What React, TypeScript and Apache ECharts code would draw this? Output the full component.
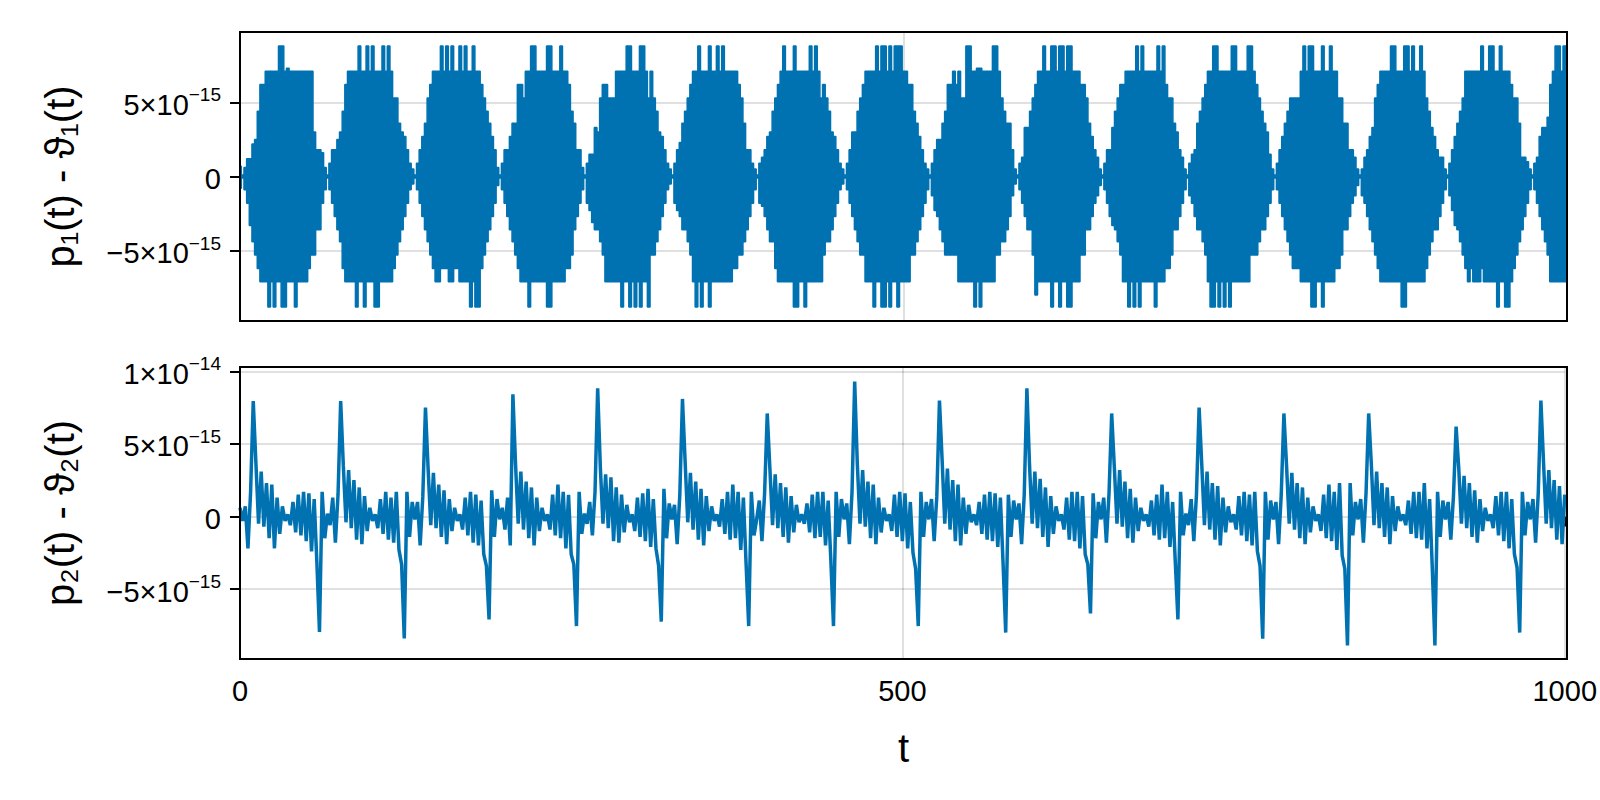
import React, { useEffect, useRef } from "react";
import * as echarts from "echarts";

// ---------- data (values in units of 1e-15) ----------
const T_STEP = 2; // time between consecutive samples
// start time of each segment (segment 0 = first sample, then one segment per beat lobe)
const segStartT = [0, 2, 66, 132, 196, 260, 326, 390, 456, 520, 586, 650, 714, 780, 844, 910, 974];

// top panel: upper envelope of p1(t) - θ1(t) per lobe
const p1Upper = [
  [0.7],
  [0.1, 0.6, 1.2, 1.2, 2.2, 2.5, 4.4, 6.2, 6.2, 7.1, 7.1, 7.1, 7.1, 7.1, 8.8, 8.8, 7.1, 7.3, 7.1, 7.1, 7.1, 7.1, 7.1, 7.1, 7.1, 7.1, 7.1, 3.0, 1.8, 1.8, 1.6, 0.6],
  [0.1, 0.9, 1.8, 1.8, 2.5, 3.0, 4.4, 6.2, 7.1, 7.1, 7.1, 7.1, 8.8, 7.1, 7.1, 8.8, 7.1, 8.8, 7.1, 7.1, 7.1, 8.8, 7.1, 8.8, 7.1, 5.3, 5.3, 3.6, 3.0, 2.7, 1.8, 0.9, 0.5],
  [0.1, 0.9, 1.8, 2.7, 3.6, 5.3, 6.2, 7.1, 7.1, 7.1, 8.8, 7.1, 8.8, 7.1, 8.8, 7.1, 7.1, 8.8, 7.1, 8.8, 7.1, 7.1, 8.8, 7.1, 7.1, 6.2, 5.3, 4.4, 3.6, 2.7, 1.8, 0.6],
  [0.1, 0.9, 1.8, 1.8, 2.7, 3.6, 3.6, 6.2, 6.2, 5.3, 7.1, 7.1, 8.8, 8.8, 7.1, 7.1, 7.1, 7.1, 8.8, 8.8, 7.1, 7.1, 7.1, 8.8, 7.1, 7.1, 6.2, 4.4, 3.6, 1.8, 1.8, 0.6],
  [0.1, 0.9, 1.5, 1.5, 3.3, 3.0, 5.3, 6.2, 6.2, 5.3, 5.3, 5.3, 7.1, 7.1, 7.1, 7.1, 8.8, 8.8, 7.1, 7.1, 7.1, 8.8, 8.8, 7.1, 5.3, 7.1, 5.3, 4.4, 3.0, 2.7, 1.8, 0.9, 0.5],
  [0.1, 0.9, 1.8, 2.3, 3.6, 4.4, 5.3, 6.2, 7.1, 7.1, 8.8, 7.1, 7.1, 7.1, 8.8, 7.1, 7.1, 8.8, 7.1, 8.8, 7.1, 7.1, 7.1, 7.1, 7.1, 6.2, 5.3, 3.6, 1.8, 1.8, 0.9, 0.5],
  [0.1, 0.9, 1.3, 1.8, 2.7, 3.0, 4.4, 5.3, 6.2, 7.1, 8.8, 7.1, 7.1, 7.1, 8.8, 7.1, 7.1, 7.1, 7.1, 7.1, 8.8, 7.1, 8.8, 7.1, 5.3, 6.2, 5.3, 4.4, 3.0, 2.7, 1.8, 0.9, 0.5],
  [0.1, 0.9, 1.8, 3.0, 3.0, 4.4, 5.3, 6.2, 7.1, 7.1, 7.1, 7.1, 8.8, 7.1, 8.8, 8.8, 7.1, 8.8, 7.1, 8.8, 8.8, 8.8, 7.1, 7.1, 6.2, 6.2, 4.4, 3.6, 2.7, 1.8, 0.9, 0.5],
  [0.1, 0.9, 1.8, 2.5, 2.5, 3.6, 4.4, 6.2, 6.2, 7.1, 6.2, 7.1, 5.3, 5.3, 8.8, 8.8, 7.1, 7.1, 7.3, 7.3, 7.1, 7.1, 7.1, 7.1, 8.8, 8.8, 7.1, 5.3, 4.4, 3.6, 3.6, 1.8, 0.5],
  [0.1, 0.9, 1.3, 3.3, 3.3, 4.4, 5.3, 6.2, 7.1, 7.1, 8.8, 7.1, 7.1, 8.8, 8.8, 7.1, 8.8, 8.8, 7.1, 8.8, 8.8, 7.1, 7.1, 7.1, 6.2, 6.2, 5.3, 3.6, 2.7, 1.8, 1.3, 0.5],
  [0.1, 0.9, 1.8, 1.8, 3.3, 4.4, 5.3, 6.2, 6.2, 7.1, 7.1, 7.1, 7.1, 8.8, 7.1, 8.8, 7.1, 7.1, 7.1, 7.1, 7.1, 8.8, 7.1, 8.8, 6.2, 5.3, 5.3, 3.6, 3.0, 1.8, 1.3, 0.5],
  [0.1, 0.9, 1.5, 1.8, 3.6, 4.4, 5.3, 6.2, 7.1, 7.1, 8.8, 8.8, 7.1, 7.1, 7.1, 7.1, 7.1, 8.8, 8.8, 7.1, 7.1, 7.1, 7.1, 8.8, 8.8, 7.1, 6.2, 5.3, 4.4, 3.6, 3.0, 1.5, 0.5],
  [0.1, 0.9, 1.8, 2.7, 3.6, 4.4, 5.3, 5.3, 5.3, 5.3, 7.1, 8.8, 7.1, 8.8, 8.8, 7.1, 7.1, 7.1, 8.8, 7.1, 7.1, 8.8, 7.1, 7.1, 5.3, 5.3, 3.6, 3.6, 1.8, 1.8, 1.3, 0.5],
  [0.1, 0.5, 1.3, 1.8, 2.7, 3.3, 5.3, 6.2, 7.1, 7.1, 7.1, 7.1, 8.8, 8.8, 7.1, 7.1, 7.1, 8.8, 8.8, 7.1, 8.8, 7.1, 7.1, 8.8, 7.1, 5.3, 4.4, 3.3, 2.7, 1.8, 1.3, 1.3, 0.5],
  [0.1, 0.9, 1.8, 2.7, 3.6, 4.4, 5.3, 7.1, 7.1, 7.1, 7.1, 7.1, 7.1, 8.8, 7.1, 7.1, 8.8, 8.8, 7.1, 7.1, 8.8, 7.1, 7.1, 7.1, 6.2, 5.3, 5.3, 3.6, 1.3, 1.3, 1.0, 0.5],
  [0.1, 0.9, 1.3, 2.7, 3.3, 3.3, 4.0, 6.2, 7.1, 8.8, 8.8, 7.1, 8.8, 8.8],
];

// top panel: lower envelope of p1(t) - θ1(t) per lobe
const p1Lower = [
  [-0.8],
  [-0.1, -0.9, -1.8, -3.3, -4.4, -5.3, -6.2, -7.1, -7.1, -7.1, -8.8, -7.1, -8.8, -7.1, -7.1, -8.8, -8.8, -7.1, -7.1, -7.1, -8.8, -7.1, -7.1, -7.1, -7.1, -6.2, -5.3, -5.3, -3.6, -3.6, -1.8, -0.9],
  [-0.1, -0.9, -1.8, -2.7, -3.6, -4.4, -6.2, -7.1, -7.1, -7.1, -7.1, -8.8, -7.1, -7.1, -8.8, -7.1, -7.1, -7.1, -8.8, -8.8, -7.1, -7.1, -7.1, -7.1, -7.1, -6.2, -5.3, -4.4, -3.6, -2.7, -1.8, -0.9, -0.5],
  [-0.1, -0.9, -1.8, -2.7, -3.6, -4.4, -5.3, -6.2, -7.1, -7.1, -6.2, -6.2, -6.2, -7.1, -7.1, -6.2, -6.2, -7.1, -7.1, -7.1, -7.1, -8.8, -7.1, -8.8, -8.8, -6.2, -5.3, -4.4, -3.6, -2.7, -1.8, -0.6],
  [-0.1, -0.9, -1.8, -2.7, -3.6, -4.4, -5.3, -6.2, -7.1, -7.1, -7.1, -8.8, -7.1, -7.1, -7.1, -7.1, -7.1, -7.1, -8.8, -8.8, -7.1, -7.1, -7.1, -7.1, -7.1, -6.2, -6.2, -5.3, -3.6, -2.7, -1.8, -0.9],
  [-0.1, -1.8, -2.3, -3.1, -3.6, -3.6, -4.4, -5.3, -7.1, -7.1, -7.1, -7.1, -7.1, -7.1, -8.8, -7.1, -7.1, -8.8, -7.1, -8.8, -7.1, -8.8, -7.1, -7.1, -8.8, -5.3, -5.3, -4.4, -3.6, -2.7, -1.8, -0.9, -0.5],
  [-0.1, -1.8, -2.3, -2.7, -3.6, -3.6, -4.4, -5.3, -7.1, -8.8, -7.1, -8.8, -7.1, -7.1, -8.8, -7.1, -7.1, -7.1, -7.1, -7.1, -7.1, -7.1, -7.1, -6.2, -6.2, -5.3, -5.3, -4.4, -3.6, -2.7, -1.8, -0.9],
  [-0.1, -1.8, -2.0, -2.7, -3.6, -4.4, -4.4, -6.2, -7.1, -7.1, -7.1, -7.1, -7.1, -7.1, -8.8, -8.8, -7.1, -7.1, -8.8, -7.1, -7.1, -7.1, -7.1, -7.1, -7.1, -5.3, -4.4, -4.4, -3.6, -2.7, -1.8, -0.9, -0.5],
  [-0.1, -0.9, -1.8, -2.7, -3.6, -4.4, -5.3, -5.3, -7.1, -7.1, -7.1, -8.8, -7.1, -7.1, -8.8, -8.8, -7.1, -8.8, -7.1, -7.1, -8.8, -7.1, -7.1, -7.1, -7.1, -5.3, -5.3, -4.4, -3.6, -2.7, -1.8, -0.9],
  [-0.1, -1.3, -2.3, -2.7, -3.6, -4.4, -5.3, -5.3, -5.3, -5.3, -5.3, -7.1, -7.1, -7.1, -7.1, -7.1, -7.1, -8.8, -7.1, -8.8, -7.1, -7.1, -7.1, -7.1, -7.1, -5.3, -5.3, -4.4, -4.4, -3.6, -2.7, -1.3, -0.5],
  [-0.1, -0.9, -1.8, -2.7, -3.6, -3.6, -5.3, -8.0, -7.1, -7.1, -7.1, -7.1, -7.1, -8.8, -7.1, -7.1, -8.8, -7.1, -7.1, -8.8, -8.8, -7.1, -7.1, -7.1, -5.3, -5.3, -3.6, -3.6, -2.7, -1.8, -1.3, -0.6],
  [-0.1, -0.9, -1.8, -2.7, -3.3, -3.6, -4.4, -5.3, -7.1, -7.1, -8.8, -7.1, -8.8, -7.1, -8.8, -7.1, -7.1, -7.1, -7.1, -7.1, -8.8, -7.1, -7.1, -7.1, -6.2, -6.2, -5.3, -3.6, -3.6, -2.7, -1.8, -0.9],
  [-0.1, -1.3, -1.8, -2.7, -3.6, -3.6, -4.4, -5.3, -7.1, -8.8, -8.8, -7.1, -8.8, -7.1, -8.8, -7.1, -8.8, -7.1, -7.1, -7.1, -7.1, -7.1, -7.1, -7.1, -5.3, -5.3, -5.3, -4.4, -3.6, -3.6, -2.7, -1.8, -0.9],
  [-0.1, -0.9, -1.8, -2.7, -3.6, -4.4, -5.3, -6.2, -6.2, -6.2, -7.1, -7.1, -7.1, -7.1, -8.8, -8.8, -7.1, -7.1, -8.8, -7.1, -7.1, -7.1, -7.1, -6.2, -6.2, -5.3, -3.6, -3.6, -2.7, -1.8, -1.3, -0.6],
  [-0.1, -1.3, -1.8, -2.7, -3.6, -4.4, -5.3, -6.2, -7.1, -7.1, -7.1, -7.1, -7.1, -7.1, -7.1, -7.1, -8.8, -8.8, -7.1, -7.1, -7.1, -7.1, -7.1, -7.1, -7.1, -6.2, -5.3, -4.4, -3.6, -3.6, -2.7, -1.8, -0.9],
  [-0.1, -1.3, -2.3, -3.3, -3.6, -4.4, -5.3, -6.2, -7.1, -6.2, -7.1, -7.1, -7.1, -6.2, -7.1, -7.1, -7.1, -7.1, -7.1, -8.8, -7.1, -7.1, -8.8, -8.8, -7.1, -6.2, -5.3, -4.4, -3.6, -2.7, -1.8, -0.9],
  [-0.1, -0.9, -1.8, -2.7, -3.6, -4.4, -5.3, -7.1, -7.1, -7.1, -7.1, -7.1, -7.1, -7.1],
];

// bottom panel: p2(t) - θ2(t) samples per segment
const p2Diff = [
  [0.6],
  [-0.3, 0.7, -2.2, 1.7, 7.96, 3.7, -0.5, 3.1, -0.7, 2.3, -1.5, 2.2, -2.2, 1.3, -1.2, 0.7, -0.3, 0.15, -0.6, 1.0, -1.1, 1.5, -1.3, 1.7, -1.7, 1.6, -2.4, 1.2, -3.1, -7.96, 1.7, -1.5],
  [0.2, -0.6, 1.3, -1.8, 1.5, 7.96, 3.5, -0.4, 3.2, -0.8, 2.5, -1.6, 2.0, -1.9, 1.4, -1.0, 0.6, -0.3, 0.15, -0.8, 1.2, -1.2, 1.7, -1.6, 1.3, -1.8, 1.7, -2.3, -3.3, -8.4, 1.7, -1.4, 1.0],
  [-0.2, 1.0, -2.0, 1.4, 7.5, 3.3, -0.6, 3.0, -0.8, 2.2, -1.4, 1.8, -1.9, 1.2, -1.0, 0.6, -0.3, 0.15, -0.9, 1.3, -1.3, 1.7, -1.8, 1.5, -2.0, 1.1, -2.6, -3.4, -7.1, 1.8, -1.4, 1.2],
  [-0.2, 0.6, -0.9, 1.3, -2.0, 8.42, 3.6, -0.5, 3.1, -0.9, 2.4, -1.5, 2.0, -2.0, 1.3, -1.0, 0.6, -0.3, 0.15, -0.9, 1.5, -1.3, 2.2, -1.5, 1.7, -2.2, 1.5, -2.6, -3.3, -7.55, 1.7, -1.2],
  [0.2, -0.5, 1.0, -1.3, 1.7, 8.83, 3.4, -0.5, 2.9, -0.8, 2.7, -1.7, 2.0, -1.8, 1.5, -1.1, 0.8, -0.4, 0.15, -1.0, 1.3, -1.4, 1.6, -1.7, 1.9, -2.1, 1.2, -2.2, -3.4, -7.25, 1.9, -1.5, 0.9],
  [-0.2, 0.8, -1.9, 1.5, 8.1, 3.8, -0.4, 3.0, -0.9, 2.4, -1.6, 1.9, -2.0, 1.4, -1.0, 0.7, -0.3, 0.15, -0.7, 1.2, -1.2, 1.7, -1.6, 2.2, -1.5, 1.7, -2.3, 1.3, -3.2, -7.55, 1.7, -1.3],
  [-0.2, 1.1, -1.7, 1.6, 7.1, 3.3, -0.6, 2.9, -0.8, 2.3, -1.4, 2.0, -1.8, 1.4, -1.1, 0.8, -0.4, 0.15, -0.5, 0.9, -1.1, 1.5, -1.5, 1.7, -1.4, 1.7, -2.0, 1.1, -3.0, -7.55, 1.7, -1.4, 1.2],
  [-0.2, 0.9, -1.9, 1.7, 9.29, 3.6, -0.5, 3.2, -0.7, 2.4, -1.5, 2.2, -1.9, 1.3, -1.1, 0.6, -0.3, 0.15, -1.0, 1.5, -1.4, 1.7, -1.7, 1.6, -2.2, 1.0, -2.5, -3.6, -7.55, 1.7, -1.4, 1.0],
  [-0.2, 1.2, -1.7, 1.4, 7.98, 3.9, -0.5, 3.3, -0.9, 2.5, -1.7, 2.2, -2.0, 1.3, -1.2, 0.8, -0.4, 0.15, -0.6, 1.0, -1.2, 1.5, -1.6, 1.7, -1.7, 1.6, -2.1, 1.3, -3.2, -8.0, 1.5, -1.4, 1.1],
  [-0.2, 0.9, -1.9, 1.5, 8.83, 3.5, -0.5, 3.1, -0.8, 2.6, -1.4, 2.0, -2.1, 1.4, -1.2, 0.7, -0.3, 0.15, -0.9, 1.3, -1.6, 1.7, -1.7, 1.7, -2.2, 1.4, -2.6, -3.3, -6.68, 1.6, -1.5, 1.0],
  [-0.2, 1.3, -1.8, 1.6, 7.1, 3.4, -0.5, 3.2, -0.7, 2.4, -1.5, 1.9, -1.8, 1.3, -1.0, 0.6, -0.3, 0.15, -0.7, 1.1, -1.3, 1.5, -1.6, 2.2, -1.5, 1.7, -2.1, 1.0, -3.1, -7.09, 1.7, -1.3],
  [0.2, -0.6, 1.2, -1.7, 1.5, 7.5, 3.6, -0.6, 3.1, -0.9, 2.3, -1.6, 2.1, -2.0, 1.3, -1.1, 0.7, -0.4, 0.15, -0.9, 1.4, -1.3, 1.7, -1.7, 1.5, -2.0, 1.7, -2.4, -3.4, -8.42, 1.7, -1.6, 1.1],
  [-0.2, 1.0, -1.9, 1.5, 7.1, 3.5, -0.5, 3.0, -0.9, 2.3, -1.5, 2.0, -1.9, 1.3, -1.1, 0.7, -0.3, 0.15, -1.0, 1.5, -1.5, 2.2, -1.7, 1.7, -2.3, 2.3, -2.7, -3.6, -8.88, 2.3, -1.3, 1.0],
  [-0.2, 1.2, -1.8, 1.6, 7.1, 3.6, -0.6, 3.1, -0.8, 2.3, -1.4, 2.0, -1.9, 1.4, -1.0, 0.7, -0.3, 0.15, -0.6, 1.1, -1.2, 1.7, -1.5, 1.7, -1.6, 2.3, -2.2, 1.2, -3.5, -8.88, 1.7, -1.4, 1.1],
  [-0.2, 1.0, -1.6, 1.4, 6.19, 3.3, -0.5, 2.8, -0.8, 2.3, -1.4, 1.8, -1.8, 1.2, -1.0, 0.6, -0.3, 0.15, -0.8, 1.4, -1.3, 1.7, -1.7, 1.7, -2.2, 1.2, -2.6, -3.5, -8.0, 1.7, -1.3, 1.0],
  [-0.2, 1.2, -1.8, 1.6, 7.98, 3.7, -0.5, 3.2, -0.8, 2.5, -1.6, 2.1, -1.9, 1.5],
];

const xTicks = [0, 500, 1000];
const yTicksTop = [-5, 0, 5];
const yTicksBottom = [-5, 0, 5, 10];
const yRangeTop = [-9.75, 9.75];
const yRangeBottom = [-9.82, 10.3];
const yLabelTop = "p\u2081(t) - \u03d1\u2081(t)";
const yLabelBottom = "p\u2082(t) - \u03d1\u2082(t)";
const xLabel = "t";

// ---------- styling ----------
const FONT = '"Liberation Sans", "TeX Gyre Heros", Arial, Helvetica, sans-serif';
const BLUE = "#0072b2";
const GRID_COLOR = "rgba(0,0,0,0.12)";
const TICK_FS = 29;
const LABEL_FS = 40;

const G1 = { left: 240, top: 32, width: 1327, height: 289 };
const G2 = { left: 240, top: 367, width: 1327, height: 292 };

function toPoints(segs: number[][]) {
  const out: number[][] = [];
  segs.forEach((seg, k) => {
    seg.forEach((v, j) => out.push([segStartT[k] + T_STEP * j, v]));
  });
  return out;
}

function fmtY(v: number) {
  if (v === 0) return "{m|0}";
  const e10 = Math.floor(Math.log10(Math.abs(v)) + 1e-9);
  const mant = Math.round(v / Math.pow(10, e10));
  const e = e10 - 15;
  const ms = (mant < 0 ? "\u2212" : "") + Math.abs(mant);
  const es = (e < 0 ? "\u2212" : "") + Math.abs(e);
  return `{m|${ms}\u00d710}{s|${es}}`;
}

function xAxis(gridIndex: number, showLabels: boolean) {
  return {
    type: "value",
    gridIndex,
    min: 0,
    max: 1000,
    interval: 500,
    axisLine: { show: false },
    axisTick: { show: true, inside: false, length: 10, lineStyle: { color: "#000", width: 2 } },
    axisLabel: {
      show: showLabels,
      color: "#000",
      fontFamily: FONT,
      fontSize: TICK_FS,
      margin: 17,
      customValues: xTicks,
      formatter: (v: number) => String(v),
    },
    splitLine: { show: true, lineStyle: { color: GRID_COLOR, width: 2 } },
  };
}

function yAxis(gridIndex: number, range: number[], ticks: number[]) {
  return {
    type: "value",
    gridIndex,
    min: range[0],
    max: range[1],
    splitNumber: 4,
    axisLine: { show: false },
    axisTick: {
      show: true,
      inside: false,
      length: 10,
      customValues: ticks,
      lineStyle: { color: "#000", width: 2 },
    },
    axisLabel: {
      show: true,
      customValues: ticks,
      margin: 19,
      formatter: fmtY,
      color: "#000",
      fontFamily: FONT,
      fontSize: TICK_FS,
      rich: {
        m: { fontFamily: FONT, fontSize: TICK_FS, color: "#000", padding: [5, 0, 0, 0] },
        s: { fontFamily: FONT, fontSize: 19, color: "#000", verticalAlign: "top" },
      },
    },
    splitLine: { show: true, lineStyle: { color: GRID_COLOR, width: 2 } },
  };
}

function envelopeSeries(data: number[][], origin: number) {
  return {
    type: "line",
    xAxisIndex: 0,
    yAxisIndex: 0,
    data,
    step: "middle",
    symbol: "none",
    showSymbol: false,
    lineStyle: { color: BLUE, width: 1.5 },
    areaStyle: { color: BLUE, opacity: 1, origin },
    itemStyle: { color: BLUE },
    silent: true,
    z: 3,
  };
}

export default function App() {
  const ref = useRef<HTMLDivElement>(null);

  useEffect(() => {
    document.body.style.margin = "0";
    const chart = echarts.init(ref.current as HTMLDivElement, null, {
      renderer: "svg",
      width: 1600,
      height: 800,
    });

    const option = {
      animation: false,
      backgroundColor: "#ffffff",
      grid: [
        { ...G1, show: false, containLabel: false },
        { ...G2, show: false, containLabel: false },
      ],
      xAxis: [xAxis(0, false), xAxis(1, true)],
      yAxis: [yAxis(0, yRangeTop, yTicksTop), yAxis(1, yRangeBottom, yTicksBottom)],
      series: [
        envelopeSeries(toPoints(p1Upper), -0.08),
        envelopeSeries(toPoints(p1Lower), 0.08),
        {
          type: "line",
          xAxisIndex: 1,
          yAxisIndex: 1,
          data: toPoints(p2Diff),
          symbol: "none",
          showSymbol: false,
          lineStyle: { color: BLUE, width: 3.5, join: "bevel" },
          itemStyle: { color: BLUE },
          silent: true,
          z: 3,
        },
      ],
      graphic: [
        {
          type: "rect",
          z: 100,
          silent: true,
          shape: { x: G1.left, y: G1.top, width: G1.width, height: G1.height },
          style: { fill: "none", stroke: "#000", lineWidth: 2 },
        },
        {
          type: "rect",
          z: 100,
          silent: true,
          shape: { x: G2.left, y: G2.top, width: G2.width, height: G2.height },
          style: { fill: "none", stroke: "#000", lineWidth: 2 },
        },
        {
          type: "text",
          z: 100,
          x: 60,
          y: G1.top + G1.height / 2,
          rotation: Math.PI / 2,
          style: {
            text: yLabelTop,
            fontFamily: FONT,
            fontSize: LABEL_FS,
            fill: "#000",
            align: "center",
            verticalAlign: "middle",
          },
        },
        {
          type: "text",
          z: 100,
          x: 60,
          y: G2.top + G2.height / 2,
          rotation: Math.PI / 2,
          style: {
            text: yLabelBottom,
            fontFamily: FONT,
            fontSize: LABEL_FS,
            fill: "#000",
            align: "center",
            verticalAlign: "middle",
          },
        },
        {
          type: "text",
          z: 100,
          x: G2.left + G2.width / 2,
          y: 748,
          style: {
            text: xLabel,
            fontFamily: FONT,
            fontSize: LABEL_FS,
            fill: "#000",
            align: "center",
            verticalAlign: "middle",
          },
        },
      ],
    };

    chart.setOption(option as any);
    return () => chart.dispose();
  }, []);

  return <div ref={ref} style={{ width: 1600, height: 800 }} />;
}
